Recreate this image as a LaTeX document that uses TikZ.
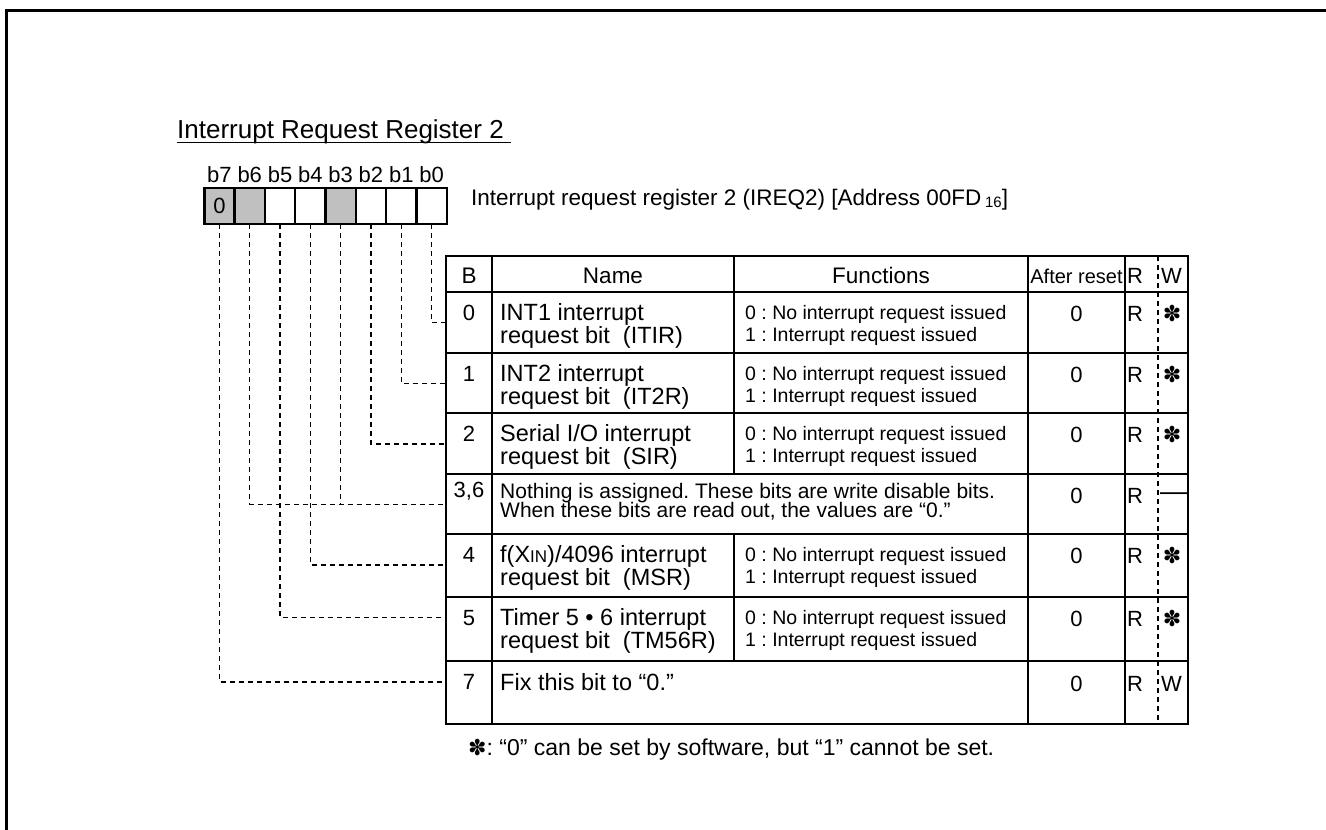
\documentclass[tikz,border=0pt]{standalone}
\usepackage{fontspec}
\setmainfont{Liberation Sans}
\newfontfamily\symfont{DejaVu Sans}
\usetikzlibrary{calc}
\definecolor{shade}{RGB}{192,192,192}
\newcommand\fs[1]{\fontsize{#1}{#1}\selectfont}
\newcommand\wsym{{\symfont\fs{22}✽}}
\frenchspacing
\begin{document}
\begin{tikzpicture}[x=1pt,y=-1pt,
  frameline/.style={line width=3pt},
  cell/.style={draw, line width=2.4pt, minimum width=30.3pt, minimum height=36.3pt, inner sep=0pt, outer sep=0pt, font=\fs{22}},
  lead/.style={line width=1.2pt, dash pattern=on 5pt off 4pt},
  tbl/.style={line width=2.7pt},
  rwdiv/.style={line width=1.2pt, dash pattern=on 5pt off 4pt},
  tx/.style={anchor=base west, inner sep=0pt},
  ct/.style={anchor=base, inner sep=0pt},
  nm/.style={tx, font=\fs{23.5}},
  fn/.style={tx, font=\fs{19.5}},
  vl/.style={ct, font=\fs{22}},
  rr/.style={tx, font=\fs{22}},
  ww/.style={ct}]
\useasboundingbox (0,0) rectangle (1326,830);
% frame (top and left edges only)
\draw[frameline] (1326,10.5) -- (6.5,10.5) -- (6.5,830);

% title
\node[tx, font=\fs{26}] (title) at (177,138) {Interrupt Request Register 2};
\draw[line width=1.6pt] ([yshift=-4.5pt]title.base west) -- ([yshift=-4.5pt,xshift=7pt]title.base east);

% register cells
\foreach \i/\f in {7/shade,6/shade,5/white,4/white,3/shade,2/white,1/white,0/white} {
  \node[cell, fill=\f] (c\i) at ({219.45+30.3*(7-\i)},206) {};
  \node[ct, font=\fs{22}] (l\i) at ({219.45+30.3*(7-\i)},182.7) {b\i};
}
\node[font=\fs{22}, inner sep=0pt] (zero) at (c7.center) {0};

% address text
\node[tx, font=\fs{22.5}] (addr) at (471,205) {Interrupt request register 2 (IREQ2) [Address 00FD\,\raisebox{-2pt}{\fs{15}16}]};

% leader end points on the table edge
\coordinate (e0) at (446,322.7);
\coordinate (e1) at (446,383.7);
\coordinate (e2) at (446,444);
\coordinate (e36) at (446,504.3);
\coordinate (e4) at (446,565);
\coordinate (e5) at (446,617.7);
\coordinate (e7) at (446,682);
\draw[lead] (c0.south) |- (e0);
\draw[lead] (c1.south) |- (e1);
\draw[lead] (c2.south) |- (e2);
\draw[lead] (c6.south) |- (e36);
\draw[lead] (c3.south) -- (c3.south |- e36);
\draw[lead] (c4.south) |- (e4);
\draw[lead] (c5.south) |- (e5);
\draw[lead] (c7.south) |- (e7);

% table
\fill[white] (446,256) rectangle (1188,724);
\draw[rwdiv] (1158,256) -- (1158,724);
\foreach \y in {292,353,413,474,534,597,661}
  \draw[tbl] (446,\y) -- (1188,\y);
\draw[tbl] (492,256) -- (492,724);
\draw[tbl] (1028,256) -- (1028,724);
\draw[tbl] (1125,256) -- (1125,724);
\draw[tbl] (734,256) -- (734,474);
\draw[tbl] (734,534) -- (734,661);
\draw[tbl] (446,256) rectangle (1188,724);

% header
\node[ct, font=\fs{22.5}] (hB) at (469,283) {B};
\node[ct, font=\fs{22.5}] (hN) at (613,283) {Name};
\node[ct, font=\fs{22.5}] (hF) at (881,283) {Functions};
\node[ct, font=\fs{20}] (hA) at (1076.5,283) {After reset};
\node[rr] (hR) at (1127,283) {R};
\node[tx, font=\fs{22}] (hW) at (1161,283) {W};

% rows with name / function pairs
\foreach \t/\b/\na/\nb in {292/0/{INT1 interrupt}/{request bit\ \ (ITIR)},
                           353/1/{INT2 interrupt}/{request bit\ \ (IT2R)},
                           413/2/{Serial I/O interrupt}/{request bit\ \ (SIR)},
                           534/4/{f(X{\fs{17}IN})/4096 interrupt}/{request bit\ \ (MSR)},
                           597/5/{Timer 5 • 6 interrupt}/{request bit\ \ (TM56R)}} {
  \node[vl] (bit\b) at (469,\t+28) {\b};
  \node[nm] (na\b) at (500,\t+28) {\na};
  \node[nm] (nb\b) at (500,\t+51.5) {\nb};
  \node[fn] (fa\b) at (745,\t+27.5) {0 : No interrupt request issued};
  \node[fn] (fb\b) at (745,\t+49.5) {1 : Interrupt request issued};
  \node[vl] (rs\b) at (1076.5,\t+29.5) {0};
  \node[rr] (rd\b) at (1127,\t+29.5) {R};
  \node[ww] (wr\b) at (1172,\t+29) {\wsym};
}

% row 3,6
\node[vl] (bit36) at (469,497) {3,6};
\node[tx, font=\fs{21}] (na36) at (500,498) {Nothing is assigned. These bits are write disable bits.};
\node[tx, font=\fs{21}] (nb36) at (500,517.5) {When these bits are read out, the values are “0.”};
\node[vl] (rs36) at (1076.5,503.5) {0};
\node[rr] (rd36) at (1127,503.5) {R};
\node[ct, font=\fs{27}] (wr36) at (1173.5,500.5) {—};

% row 7
\node[vl] (bit7) at (469,689) {7};
\node[nm] (na7) at (500,690) {Fix this bit to “0.”};
\node[vl] (rs7) at (1076.5,691) {0};
\node[rr] (rd7) at (1127,691) {R};
\node[tx, font=\fs{22}] (wr7) at (1161,691) {W};

% footnote
\node[tx, font=\fs{23}] (note) at (468,755) {{\symfont\fs{22}✽}: “0” can be set by software, but “1” cannot be set.};
\end{tikzpicture}
\end{document}
